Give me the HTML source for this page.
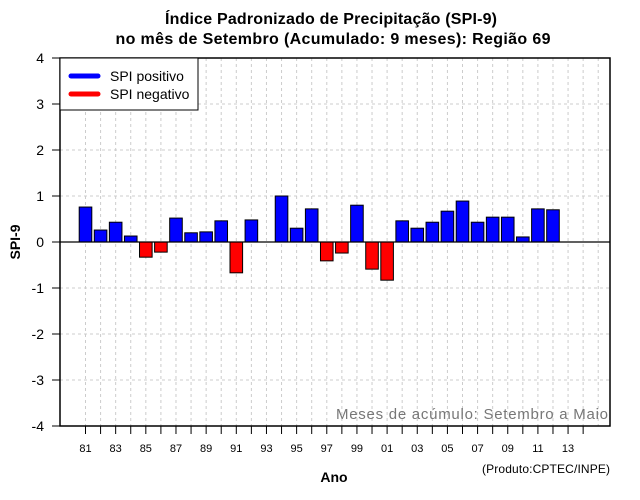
<!DOCTYPE html>
<html><head><meta charset="utf-8"><style>
body{margin:0;background:#fff}
svg{display:block;font-family:"Liberation Sans",sans-serif}
</style></head><body>
<svg id="c" width="640" height="500">
<text x="331" y="24" text-anchor="middle" font-size="16" font-weight="bold" textLength="332">Índice Padronizado de Precipitação (SPI-9)</text>
<text x="333" y="44" text-anchor="middle" font-size="16" font-weight="bold" textLength="435">no mês de Setembro (Acumulado: 9 meses): Região 69</text>
<g id="grid"></g><g id="bars"></g><g id="axes"></g>
<rect x="60" y="58" width="550" height="368" fill="none" stroke="#000" stroke-width="1.5"/>
<g>
<rect x="60" y="58" width="138" height="52" fill="#fff" stroke="#000" stroke-width="1"/>
<line x1="71" y1="76" x2="98" y2="76" stroke="#00f" stroke-width="5" stroke-linecap="round"/>
<text x="110" y="81" font-size="14">SPI positivo</text>
<line x1="71" y1="94" x2="98" y2="94" stroke="#f00" stroke-width="5" stroke-linecap="round"/>
<text x="110" y="99" font-size="14">SPI negativo</text>
</g>
<text x="336" y="419" font-size="15" fill="#777" textLength="272">Meses de acúmulo: Setembro a Maio</text>
<text x="20" y="242" text-anchor="middle" font-size="14" font-weight="bold" transform="rotate(-90 20 242)">SPI-9</text>
<text x="334" y="482" text-anchor="middle" font-size="14" font-weight="bold">Ano</text>
<text x="482" y="473" font-size="12" textLength="128">(Produto:CPTEC/INPE)</text>
</svg>
<script>
const years=[1981,1982,1983,1984,1985,1986,1987,1988,1989,1990,1991,1992,1993,1994,1995,1996,1997,1998,1999,2000,2001,2002,2003,2004,2005,2006,2007,2008,2009,2010,2011,2012,2013];
const spi=[0.76,0.26,0.43,0.13,-0.33,-0.22,0.52,0.2,0.22,0.46,-0.67,0.48,null,1.0,0.3,0.72,-0.41,-0.24,0.8,-0.59,-0.83,0.46,0.3,0.43,0.67,0.89,0.43,0.54,0.54,0.11,0.72,0.7,null];
const yTicks=[-4,-3,-2,-1,0,1,2,3,4];
const xLabelYears=[1981,1983,1985,1987,1989,1991,1993,1995,1997,1999,2001,2003,2005,2007,2009,2011,2013];
const NS="http://www.w3.org/2000/svg";
const X=y=>85.5+(y-1981)*15.08;
const Y=v=>242-v*46;
function mk(t,a,p){const e=document.createElementNS(NS,t);for(const k in a)e.setAttribute(k,a[k]);p.appendChild(e);return e;}
const grid=document.getElementById('grid'),bars=document.getElementById('bars'),axes=document.getElementById('axes');
for(let y=1981;y<=2015;y++){
 const l=mk('line',{x1:X(y),x2:X(y),y1:58,y2:426,stroke:'#ccc','stroke-dasharray':'3,3'},grid);
 
 
}
yTicks.forEach(v=>{
 const l=mk('line',{x1:60,x2:610,y1:Y(v),y2:Y(v),stroke:'#ccc','stroke-dasharray':'3,3'},grid);
 
 
 const t=mk('line',{x1:52,x2:60,y1:Y(v),y2:Y(v),stroke:'#000'},axes);
 
 
 const tx=mk('text',{x:44,y:Y(v)+5,'text-anchor':'end','font-size':14},axes);
 tx.textContent=v;
 
 
});
const z=mk('line',{x1:60,x2:610,y1:Y(0),y2:Y(0),stroke:'#000','stroke-width':1.3},axes);


years.forEach((yr,i)=>{
 const v=spi[i]; if(v===null)return;
 const top=Math.min(Y(v),Y(0)),h=Math.abs(Y(v)-Y(0));
 const r=mk('rect',{x:X(yr)-6.3,y:top,width:12.6,height:h,fill:v>=0?'#00f':'#f00',stroke:'#000','stroke-width':1},bars);
 
 
});
for(let y=1981;y<=2014;y++){
 const t=mk('line',{x1:X(y),x2:X(y),y1:426,y2:434,stroke:'#000'},axes);
 
 
}
xLabelYears.forEach(y=>{
 const t=mk('text',{x:X(y),y:452,'text-anchor':'middle','font-size':11},axes);
 t.textContent=String(y%100).padStart(2,'0');
 
 
});
</script>
</body></html>
